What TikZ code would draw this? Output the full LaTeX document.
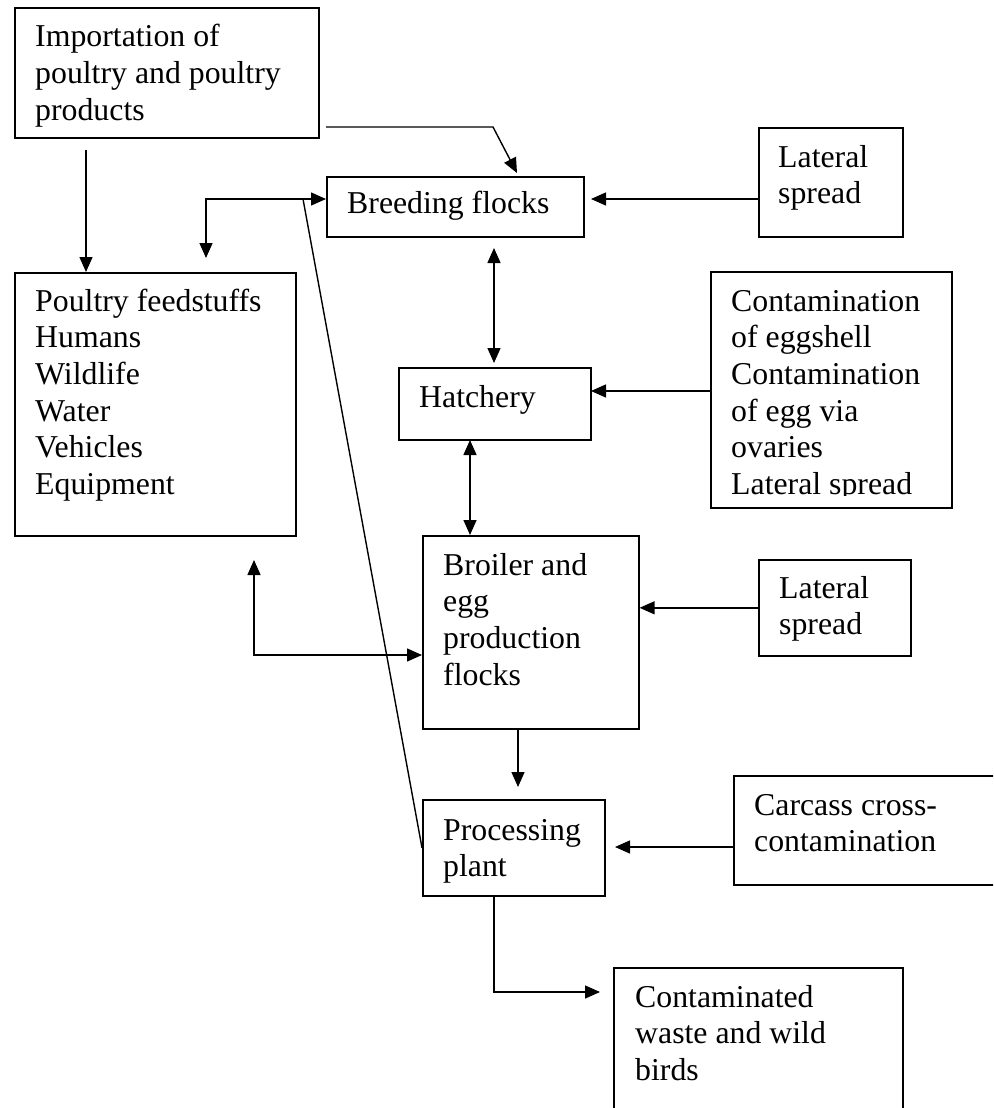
\documentclass[tikz,border=0pt]{standalone}
\usepackage{fontspec}
\setmainfont{Liberation Serif}
\usetikzlibrary{arrows.meta}
\begin{document}
\begin{tikzpicture}[x=1pt,y=-1pt,
  bx/.style={draw, line width=1.6pt, inner sep=0pt, anchor=north west},
  txt/.style={inner sep=0pt, anchor=base west, font=\fontsize{31.8}{36.7}\selectfont},
  conn/.style={line width=1.4pt},
  arr/.style={conn, -{Triangle[length=15pt,width=13pt]}},
  darr/.style={conn, {Triangle[length=15pt,width=13pt]}-{Triangle[length=15pt,width=13pt]}}]
\useasboundingbox (0,0) rectangle (993,1108);
\clip (0,0) rectangle (993,1108);

% boxes
\node[bx, minimum width=304pt, minimum height=130pt] (imp) at (14,7) {};
\node[bx, minimum width=257pt, minimum height=60pt] (breed) at (326,176) {};
\node[bx, minimum width=144pt, minimum height=109pt] (lat1) at (758,127) {};
\node[bx, minimum width=281pt, minimum height=263pt] (feed) at (14,272) {};
\node[bx, minimum width=192pt, minimum height=72pt] (hatch) at (398,367) {};
\node[bx, minimum width=241pt, minimum height=236pt] (contam) at (710,271) {};
\node[bx, minimum width=216pt, minimum height=193pt] (broil) at (422,535) {};
\node[bx, minimum width=152pt, minimum height=96pt] (lat2) at (758,559) {};
\node[bx, minimum width=182pt, minimum height=96pt] (proc) at (422,799) {};
\node[bx, minimum width=280pt, minimum height=109pt] (carc) at (733,775) {};
\node[bx, minimum width=289pt, minimum height=160pt] (waste) at (613,967) {};

% texts
\node[txt] (impT) at (35,47) {\vtop{\hbox{Importation of}\hbox{poultry and poultry}\hbox{products}}};
\node[txt] (breedT) at (347,213) {Breeding flocks};
\node[txt] (lat1T) at (778,167) {\vtop{\hbox{Lateral}\hbox{spread}}};
\node[txt] (feedT) at (35,311) {\vtop{\hbox{Poultry feedstuffs}\hbox{Humans}\hbox{Wildlife}\hbox{Water}\hbox{Vehicles}\hbox{Equipment}}};
\node[txt] (hatchT) at (419,407) {Hatchery};
\begin{scope}
\clip (710,271) rectangle (951,495);
\node[txt] (contamT) at (731,311) {\vtop{\hbox{Contamination}\hbox{of eggshell}\hbox{Contamination}\hbox{of egg via}\hbox{ovaries}\hbox{Lateral spread}}};
\end{scope}
\node[txt] (broilT) at (443,575) {\vtop{\hbox{Broiler and}\hbox{egg}\hbox{production}\hbox{flocks}}};
\node[txt] (lat2T) at (779,598) {\vtop{\hbox{Lateral}\hbox{spread}}};
\node[txt] (procT) at (443,840) {\vtop{\hbox{Processing}\hbox{plant}}};
\node[txt] (carcT) at (754,815) {\vtop{\hbox{Carcass cross-}\hbox{contamination}}};
\node[txt] (wasteT) at (635,1007) {\vtop{\hbox{Contaminated}\hbox{waste and wild}\hbox{birds}}};

% connector points
\coordinate (pImp) at (326,127);
\coordinate (kImp) at (493,127);
\coordinate (tImp) at (517,173);
\coordinate (d1) at (86,150);
\coordinate (k2) at (206,199);
\coordinate (t2) at (206,258);
\coordinate (s3) at (303,199);
\coordinate (t4) at (591,199);
\coordinate (a5) at (494,248);
\coordinate (b5) at (494,363);
\coordinate (t7) at (591,391);
\coordinate (a8) at (470,440);
\coordinate (t10) at (254,560);
\coordinate (k10) at (254,655);
\coordinate (t11) at (518,787);
\coordinate (t12) at (615,847);
\coordinate (k13) at (494,992);
\coordinate (t13) at (600,992);

% connectors
\draw[arr] (pImp) -- (kImp) -- (tImp);
\draw[arr] (d1) -- (d1 |- feed.north);
\draw[darr] (t2) -- (k2) -- (breed.west |- k2);
\draw[conn] (s3) -- (proc.west);
\draw[arr] (lat1.west |- t4) -- (t4);
\draw[darr] (a5) -- (b5);
\draw[arr] (contam.west |- t7) -- (t7);
\draw[darr] (a8) -- (a8 |- broil.north);
\draw[arr] (lat2.west) -- (lat2.west -| broil.east);
\draw[darr] (t10) -- (k10) -- (k10 -| broil.west);
\draw[arr] (t11 |- broil.south) -- (t11);
\draw[arr] (carc.west |- t12) -- (t12);
\draw[arr] (proc.south -| k13) -- (k13) -- (t13);
\end{tikzpicture}
\end{document}
